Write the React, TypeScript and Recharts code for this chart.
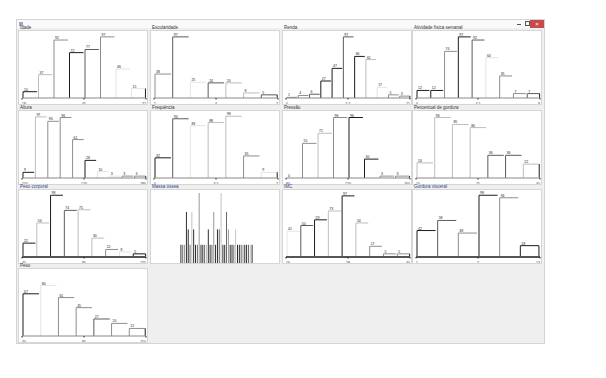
import { BarChart, Bar, XAxis, YAxis, LabelList } from 'recharts'

// shades used by the outlined histogram bars
const K = '#1c1c1c'
const D = '#5c5c5c'
const G = '#8e8e8e'
const L = '#bdbdbd'
const W = '#e4e4e4'

const titles = [
  'Idade', 'Escolaridade', 'Renda', 'Atividade física semanal',
  'Altura', 'Frequência', 'Pressão', 'Percentual de gordura',
  'Peso corporal', 'Massa óssea', 'IMC', 'Gordura visceral',
  'Peso',
]

const idade = [10, 37, 92, 72, 77, 97, 46, 15]
const escolaridade = [38, 97, 25, 24, 24, 8, 5]
const renda = [1, 4, 6, 27, 47, 97, 66, 61, 17, 5, 3]
const atividade = [12, 12, 74, 97, 92, 64, 35, 7, 7]
const altura = [9, 97, 90, 96, 61, 28, 10, 3, 3, 3]
const frequencia = [32, 94, 83, 88, 98, 35, 9]
const pressao = [0, 55, 71, 96, 96, 30, 3, 3]
const gordura = [24, 96, 85, 80, 36, 36, 22]
const pesoCorporal = [22, 54, 98, 74, 75, 30, 12, 8, 5]
const massaOssea = [
  26, 26, 26, 73, 48, 26, 73, 48, 26, 26, 100, 26, 26, 26, 26, 48, 26, 26, 73, 26,
  48, 48, 100, 26, 26, 73, 48, 26, 26, 26, 48, 26, 26, 26, 26, 26, 26, 26, 26, 26,
]
const imc = [41, 50, 59, 73, 97, 54, 17, 5, 5]
const visceral = [42, 58, 38, 98, 94, 18]
const peso = [67, 80, 61, 45, 27, 20, 12]

const tickLabels = [
  ['18', '45', '72'], ['1', '4', '7'], ['0', '5,5', '11'], ['0', '4,5', '9'],
  ['150', '170', '190'], ['0', '3,5', '7'], ['80', '120', '160'], ['10', '25', '40'],
  ['45', '85', '125'], [], ['16', '28', '40'], ['1', '7', '13'],
  ['40', '95', '150'],
]

const colors = [
  [K, L, G, K, D, G, W, W],
  [G, D, W, D, L, L, D],
  [G, G, D, K, K, D, K, L, W, G, G],
  [K, K, G, K, D, W, G, G, D],
  [K, L, G, G, G, K, W, W, G, G],
  [K, D, W, L, L, G, W],
  [W, G, L, G, K, K, G, G],
  [L, L, L, L, D, D, L],
  [K, L, K, D, L, L, G, W, K],
  [K, D, G, K, K, D, L, K],
  [W, D, K, L, K, L, G, G, G],
  [K, D, G, K, G, K],
  [K, W, G, G, D, G, G],
]

const series = [
  idade, escolaridade, renda, atividade,
  altura, frequencia, pressao, gordura,
  pesoCorporal, massaOssea, imc, visceral,
  peso,
]

const colX = [18, 150, 282, 412]
const rowY = [25, 105, 184, 263]
const PW = 128
const PH = 73

function Panel({ idx }: { idx: number }) {
  const values = series[idx]
  const n = values.length
  const pal = colors[idx]
  const rows = values.map((v, i) => ({ x: i + 0.5, v, c: pal[i % pal.length], last: i === n - 1 }))
  const labels = tickLabels[idx]
  const left = colX[idx % 4]
  const top = rowY[Math.floor(idx / 4)]
  const dense = idx === 9
  const heavyAxis = idx === 8 || idx === 10 || idx === 11

  const outline = (props: any) => {
    const { x, y, width, height, payload } = props
    if (height <= 0) return <g />
    const base = y + height
    return (
      <g>
        <path d={`M${x},${base}V${y}H${x + width}`} fill="none" stroke={payload.c} strokeWidth={1} />
        {payload.last && (
          <path d={`M${x + width},${y}V${base}`} fill="none" stroke={K} strokeWidth={1} />
        )}
      </g>
    )
  }

  const tinyLabel = (props: any) => {
    const { x, y, value } = props
    return (
      <text x={x + 1} y={y - 1} fontSize={3.5} fill="#222">
        {value}
      </text>
    )
  }

  const renderTick = (p: any) => {
    const v = p.payload.value
    const anchor = v === 0 ? 'start' : v === n ? 'end' : 'middle'
    const li = v === 0 ? 0 : v === n ? 2 : 1
    return (
      <text x={p.x} y={p.y + 3} fontSize={3.5} fill="#333" textAnchor={anchor}>
        {labels[li]}
      </text>
    )
  }

  return (
    <div style={{ position: 'absolute', left, top, width: PW + 2 }}>
      <div
        style={{
          height: 5,
          fontSize: 4.5,
          lineHeight: '5px',
          color: Math.floor(idx / 4) === 2 ? '#2a3f8a' : '#333',
          paddingLeft: 2,
          whiteSpace: 'nowrap',
          overflow: 'hidden',
        }}
      >
        {titles[idx]}
      </div>
      <div style={{ background: '#fff', border: '1px solid #d6d6d6', width: PW, height: PH }}>
        {dense ? (
          <BarChart width={PW} height={PH} data={rows} margin={{ top: 3, right: 26, left: 29, bottom: 0 }} barCategoryGap="25%">
            <XAxis dataKey="x" hide />
            <YAxis hide domain={[0, 100]} />
            <Bar dataKey="v" isAnimationActive={false} fill={K} shape={(p: any) => (
              <rect x={p.x} y={p.y} width={p.width} height={p.height} fill={p.payload.c} />
            )} />
          </BarChart>
        ) : (
          <BarChart width={PW} height={PH} data={rows} margin={{ top: 4, right: 1, left: 3, bottom: 0 }}>
            <XAxis
              dataKey="x"
              type="number"
              domain={[0, n]}
              ticks={[0, n / 2, n]}
              interval={0}
              height={6}
              axisLine={heavyAxis ? { stroke: '#555', strokeWidth: 2 } : { stroke: '#8a8a8a', strokeWidth: 1.2 }}
              tickLine={{ stroke: '#222' }}
              tickSize={1.5}
              tick={renderTick}
            />
            <YAxis hide domain={[0, 100]} />
            <Bar dataKey="v" isAnimationActive={false} barSize={124 / n} shape={outline}>
              <LabelList dataKey="v" content={tinyLabel} />
            </Bar>
          </BarChart>
        )}
      </div>
    </div>
  )
}

export default function App() {
  return (
    <div
      style={{
        position: 'absolute',
        left: 0,
        top: 0,
        width: 606,
        height: 378,
        background: '#fff',
        fontFamily: 'Liberation Sans, Arial, sans-serif',
      }}
    >
      <div
        style={{
          position: 'absolute',
          left: 16,
          top: 19,
          width: 529,
          height: 325,
          background: '#efefef',
          border: '1px solid #d4d4d4',
          boxSizing: 'border-box',
        }}
      >
        <div style={{ height: 8, background: '#fafafa', position: 'relative' }}>
          <div style={{ position: 'absolute', left: 2, top: 2, width: 4, height: 4, background: '#9aa7b8' }} />
          <div style={{ position: 'absolute', left: 500, top: 4, width: 4, height: 1, background: '#555' }} />
          <div style={{ position: 'absolute', left: 508, top: 1, width: 3, height: 3, border: '1px solid #555' }} />
          <div style={{ position: 'absolute', right: 0, top: 0, width: 14, height: 8, background: '#c74b4b', color: '#fff', fontSize: 6, lineHeight: '8px', textAlign: 'center' }}>×</div>
        </div>
      </div>
      {series.map((_, i) => (
        <Panel key={i} idx={i} />
      ))}
    </div>
  )
}
